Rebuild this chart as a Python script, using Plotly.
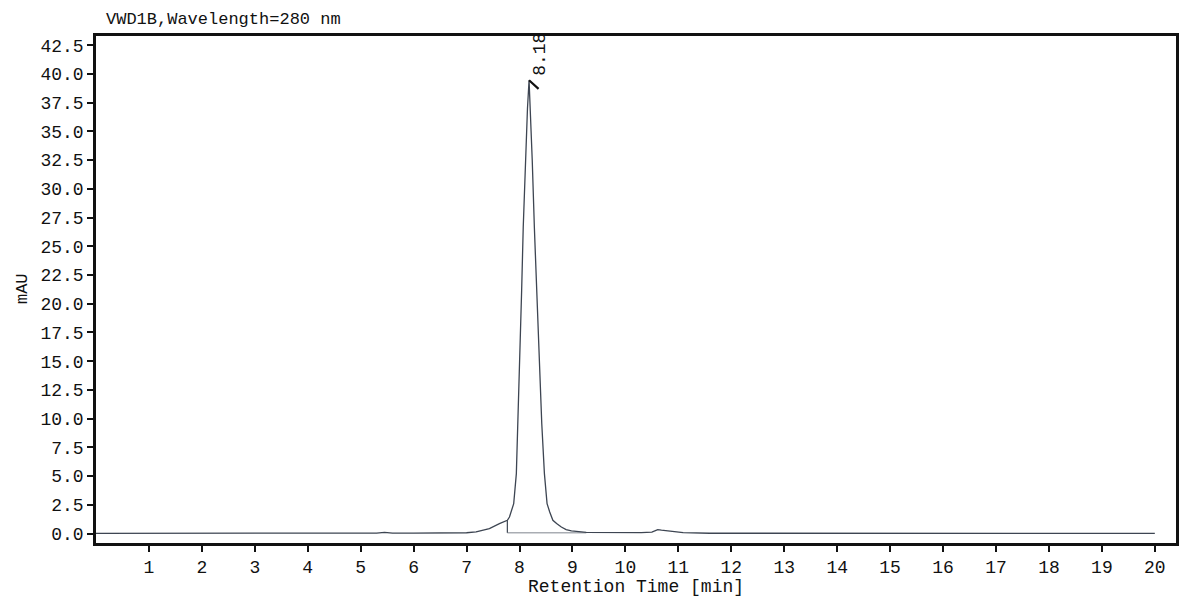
import plotly.graph_objects as go

# chromatogram trace (minutes, mAU)
time_min = [0.0, 1.0, 2.0, 3.0, 4.0, 5.0, 5.3, 5.45, 5.6, 6.0, 6.5, 7.0,
            7.18, 7.43, 7.62, 7.77, 7.81, 7.84, 7.89, 7.94, 7.97, 8.01, 8.04,
            8.07, 8.11, 8.15, 8.18, 8.21, 8.24, 8.28, 8.33, 8.36, 8.42,
            8.47, 8.52, 8.57, 8.63, 8.70, 8.79, 8.88, 8.98, 9.26, 9.7, 10.3,
            10.5, 10.61, 10.68, 10.74, 10.87, 11.09, 11.59, 12.5, 14.0, 16.0,
            18.0, 20.0]
signal_mau = [0.02, 0.02, 0.03, 0.03, 0.03, 0.03, 0.04, 0.10, 0.04, 0.04, 0.05, 0.07,
              0.14, 0.44, 0.87, 1.16, 1.44, 1.88, 2.61, 5.22, 9.57, 15.37, 21.17,
              26.68, 32.49, 37.0, 39.45, 36.5, 32.49, 26.68, 20.48, 15.37, 9.57,
              5.22, 2.61, 1.88, 1.16, 0.87, 0.57, 0.35, 0.23, 0.11, 0.09, 0.09,
              0.12, 0.35, 0.30, 0.26, 0.23, 0.09, 0.03, 0.02, 0.02, 0.02,
              0.02, 0.02]

# integration of the main peak
peak_rt = 8.18
peak_height = 39.45
peak_label = "8.18"
peak_start = 7.77
peak_start_height = 1.16
peak_end = 9.26
baseline_level = 0.08

x_ticks = list(range(1, 21))
y_ticks = [i * 2.5 for i in range(18)]

FONT = "Liberation Mono"
INK = "#111111"
TRACE = "#3d4552"
FS = 18

fig = go.Figure()

fig.add_trace(go.Scatter(
    x=[peak_start, peak_end], y=[baseline_level, baseline_level],
    mode="lines", line={"color": "#a9adb3", "width": 1.5},
    hoverinfo="skip", showlegend=False,
))
fig.add_trace(go.Scatter(
    x=[peak_start, peak_start], y=[baseline_level, peak_start_height],
    mode="lines", line={"color": TRACE, "width": 1.2},
    hoverinfo="skip", showlegend=False,
))
fig.add_trace(go.Scatter(
    x=time_min, y=signal_mau, mode="lines",
    line={"color": TRACE, "width": 1.3},
    showlegend=False,
))

# retention time marker and label
fig.add_annotation(
    x=peak_rt, y=peak_height, xref="x", yref="y",
    text="", showarrow=True, arrowhead=0, arrowwidth=2.2,
    arrowcolor=INK, ax=11, ay=10, standoff=0,
)
fig.add_annotation(
    x=peak_rt, y=peak_height, xref="x", yref="y",
    text=peak_label, showarrow=False, textangle=-90,
    xanchor="center", yanchor="bottom", xshift=11, yshift=2,
    font={"family": FONT, "size": FS, "color": INK},
)

# header and axis titles
fig.add_annotation(
    x=0.0083, y=1.033, xref="paper", yref="paper",
    text="VWD1B,Wavelength=280 nm", showarrow=False,
    xanchor="left", yanchor="middle", borderpad=0,
    font={"family": FONT, "size": 17, "color": INK},
)
fig.add_annotation(
    x=0.5, y=-0.0868, xref="paper", yref="paper",
    text="Retention Time [min]", showarrow=False,
    xanchor="center", yanchor="middle", borderpad=0,
    font={"family": FONT, "size": FS, "color": INK},
)
fig.add_annotation(
    x=-0.068, y=0.502, xref="paper", yref="paper",
    text="mAU", showarrow=False, textangle=-90,
    xanchor="center", yanchor="middle",
    font={"family": FONT, "size": 17, "color": INK},
)

axis_common = dict(
    showline=True, linecolor=INK, linewidth=2.6, mirror=True,
    showgrid=False, zeroline=False,
    ticks="outside", ticklen=6, tickwidth=2, tickcolor=INK,
    tickfont={"family": FONT, "size": FS, "color": INK},
)

fig.update_xaxes(range=[0, 20.4], tickvals=x_ticks, **axis_common)
fig.update_yaxes(range=[-0.82, 43.3], tickvals=y_ticks, tickformat=".1f",
                 **axis_common)

# page body adds an 8px offset, so the figure is sized to fit inside it
fig.update_layout(
    width=1184, height=595,
    margin={"l": 88, "r": 16, "t": 28, "b": 60},
    plot_bgcolor="white", paper_bgcolor="white",
    showlegend=False,
)

fig.write_html("out.html")
